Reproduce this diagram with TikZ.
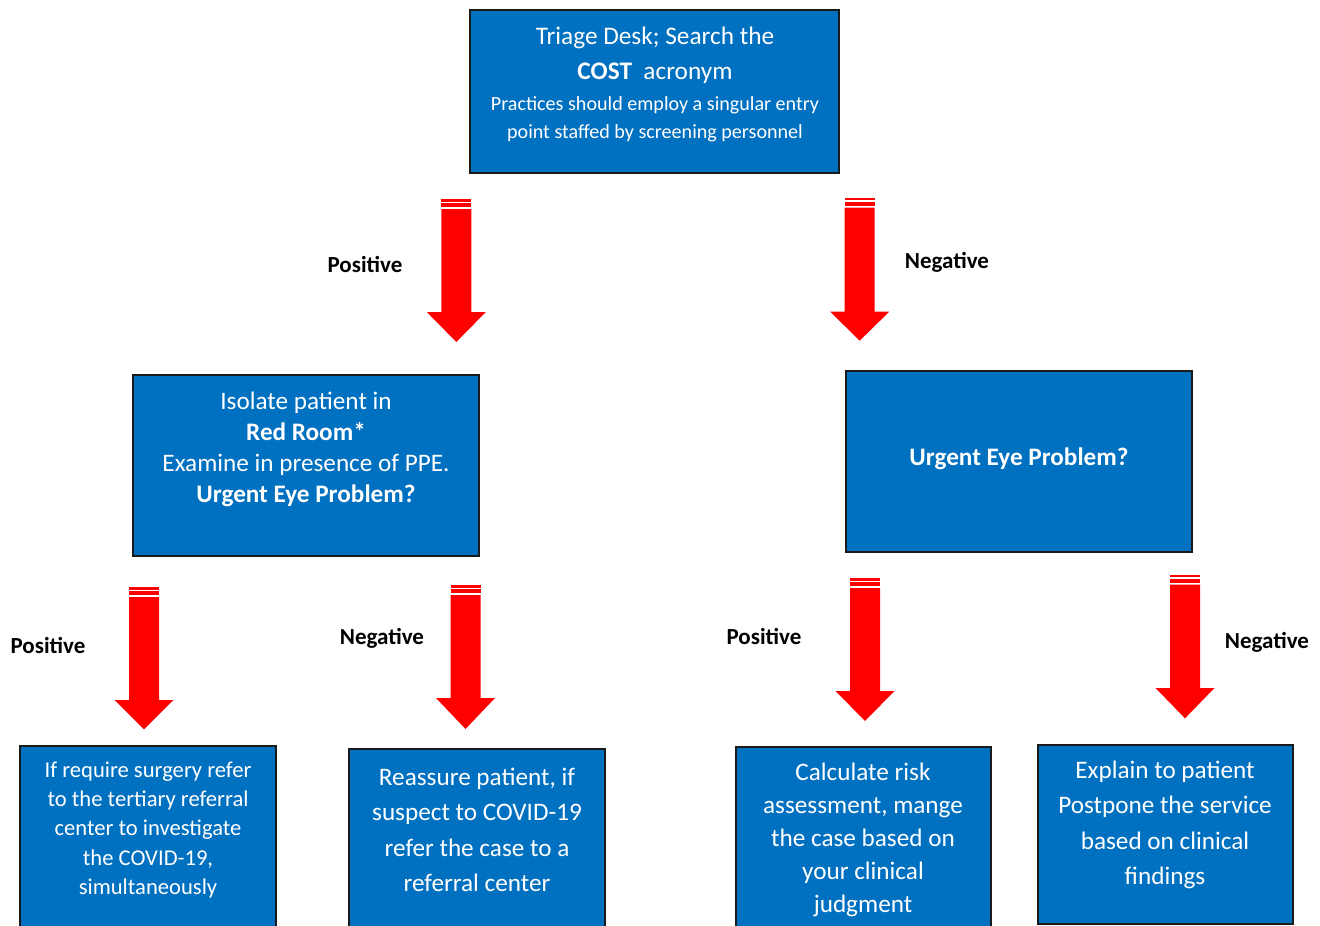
\documentclass[tikz,border=0pt]{standalone}
\usepackage{fontspec}
\setmainfont{Carlito}
\definecolor{boxblue}{HTML}{0070C0}
\definecolor{boxedge}{HTML}{1A1A1A}
\definecolor{arrowred}{HTML}{FF0000}
\newcommand\redarrow[4]{%
  \fill[arrowred] ({#1-15},{#2}) rectangle ({#1+15},{#2+2.5});
  \fill[arrowred] ({#1-15},{#2+4}) rectangle ({#1+15},{#2+8});
  \fill[arrowred] ({#1-15},{#2+10}) -- ({#1+15},{#2+10}) -- ({#1+15},{#3})
     -- ({#1+29.5},{#3}) -- ({#1},{#4}) -- ({#1-29.5},{#3}) -- ({#1-15},{#3}) -- cycle;
}
\begin{document}
\begin{tikzpicture}[x=1pt,y=-1pt,
  flowbox/.style={draw=boxedge, line width=2pt, fill=boxblue},
  boxtext/.style={text=white, align=center, inner sep=0pt},
  branchlabel/.style={font=\fontsize{23}{27}\selectfont\bfseries, text=black, inner sep=0pt}]
\useasboundingbox[fill=white] (0,0) rectangle (1320,926);

% boxes
\draw[flowbox] (470,10) rectangle (839,173);
\draw[flowbox] (133,375) rectangle (479,556);
\draw[flowbox] (846,371) rectangle (1192,552);
\draw[flowbox] (20,746) rectangle (276,940);
\draw[flowbox] (349,749) rectangle (605,940);
\draw[flowbox] (736,747) rectangle (991,940);
\draw[flowbox] (1038,745) rectangle (1293,924);

% box texts
\node[boxtext, font=\fontsize{25.3}{35}\selectfont] (top1) at (655,55)
  {Triage Desk; Search the\\\textbf{COST}\ \ acronym};
\node[boxtext, font=\fontsize{20.1}{28}\selectfont] (top2) at (655,119)
  {Practices should employ a singular entry\\point staffed by screening personnel};
\node[boxtext, font=\fontsize{25.2}{31}\selectfont] (redroom) at (306,449)
  {Isolate patient in\\\textbf{Red Room*}\\Examine in presence of PPE.\\\textbf{Urgent Eye Problem?}};
\node[boxtext, font=\fontsize{25.2}{31}\selectfont\bfseries] (urgent) at (1019,459)
  {Urgent Eye Problem?};
\node[boxtext, font=\fontsize{22.6}{29.25}\selectfont] (surgery) at (148,830)
  {If require surgery refer\\to the tertiary referral\\center to investigate\\the COVID-19,\\simultaneously};
\node[boxtext, font=\fontsize{25.2}{35.3}\selectfont] (reassure) at (477,830)
  {Reassure patient, if\\suspect to COVID-19\\refer the case to a\\referral center};
\node[boxtext, font=\fontsize{25.2}{33}\selectfont] (calc) at (863,840)
  {Calculate risk\\assessment, mange\\the case based on\\your clinical\\judgment};
\node[boxtext, font=\fontsize{25.2}{35.5}\selectfont] (explain) at (1165,825)
  {Explain to patient\\Postpone the service\\based on clinical\\findings};

% arrows
\redarrow{456.3}{199}{312}{342}
\redarrow{859.7}{197.5}{311.7}{340.7}
\redarrow{144}{587}{700}{729.3}
\redarrow{465.5}{585}{698}{729}
\redarrow{865}{578}{691}{721}
\redarrow{1185}{574.5}{688}{718.3}

% labels
\node[branchlabel] (pos1) at (365,264) {Positive};
\node[branchlabel] (neg1) at (947,262) {Negative};
\node[branchlabel] (pos2) at (48,645) {Positive};
\node[branchlabel] (neg2) at (382,638) {Negative};
\node[branchlabel] (pos3) at (764,636) {Positive};
\node[branchlabel] (neg3) at (1267,642) {Negative};
\end{tikzpicture}
\end{document}
